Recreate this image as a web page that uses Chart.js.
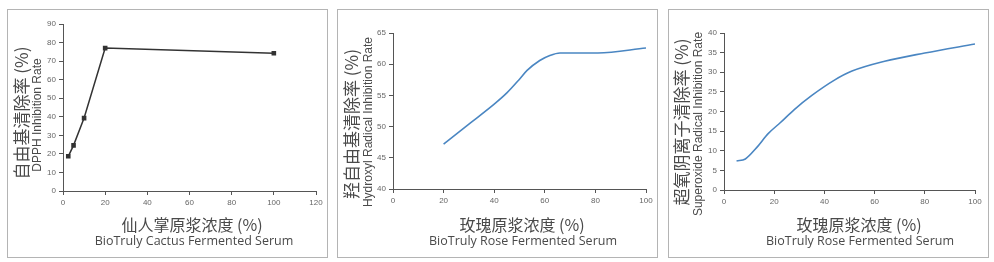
<!DOCTYPE html>
<html>
<head>
<meta charset="utf-8">
<script src="https://cdn.jsdelivr.net/npm/chart.js@4"></script>
<style>
  html, body { margin: 0; padding: 0; background: #fff; }
  body { width: 994px; height: 262px; position: relative; overflow: hidden; }
  .panel { position: absolute; border: 1px solid #b4b4b4; box-sizing: border-box; }
  canvas { position: absolute; }
  .t { position: absolute; white-space: nowrap; color: #4a4a4a; line-height: 1; }
  .rot { transform: translate(-50%, -50%) rotate(-90deg); }
  .hor { transform: translate(-50%, -50%); }
  .cn { font-family: "Noto Sans CJK SC", sans-serif; }
  .cnY { font-size: 17px; }
  .cnX { font-size: 16px; }
  .enY { font-family: "Liberation Sans", Arial, sans-serif; font-size: 12px; }
  .enX { font-family: "Open Sans", sans-serif; font-size: 12.5px; }
</style>
</head>
<body>

<!-- рамки панелей -->
<div class="panel" style="left:7px;top:9px;width:321px;height:249px"></div>
<div class="panel" style="left:337px;top:9px;width:321px;height:249px"></div>
<div class="panel" style="left:668px;top:9px;width:321px;height:249px"></div>

<canvas id="dpphChart" width="320" height="248" style="left:7px;top:9px"></canvas>
<canvas id="hydroxylChart" width="320" height="248" style="left:337px;top:9px"></canvas>
<canvas id="superoxideChart" width="320" height="248" style="left:668px;top:9px"></canvas>

<!-- подписи осей: панель 1 -->
<div class="t cn cnY rot" style="left:20px;top:113px">自由基清除率 (%)</div>
<div class="t enY rot" style="left:37px;top:115px">DPPH Inhibition Rate</div>
<div class="t cn cnX hor" style="left:192px;top:224px">仙人掌原浆浓度 (%)</div>
<div class="t enX hor" style="left:194px;top:241px">BioTruly Cactus Fermented Serum</div>

<!-- панель 2 -->
<div class="t cn cnY rot" style="left:350px;top:124px">羟自由基清除率 (%)</div>
<div class="t enY rot" style="left:368px;top:122px">Hydroxyl Radical Inhibition Rate</div>
<div class="t cn cnX hor" style="left:522px;top:224px">玫瑰原浆浓度 (%)</div>
<div class="t enX hor" style="left:523px;top:241px">BioTruly Rose Fermented Serum</div>

<!-- панель 3 -->
<div class="t cn cnY rot" style="left:680px;top:122px">超氧阴离子清除率 (%)</div>
<div class="t enY rot" style="left:698px;top:124px">Superoxide Radical Inhibition Rate</div>
<div class="t cn cnX hor" style="left:859px;top:224px">玫瑰原浆浓度 (%)</div>
<div class="t enX hor" style="left:860px;top:241px">BioTruly Rose Fermented Serum</div>

<script>
// Данные
const cactusConc = [2.5, 5, 10, 20, 100];
const dpphRate = [18.7, 24.6, 39.3, 77, 74.2];

const roseConcHydroxyl = [20, 30, 40, 45, 50, 53, 58, 62, 66, 81, 100];
const hydroxylRate = [47.2, 50.4, 53.6, 55.4, 57.6, 59.0, 60.6, 61.4, 61.8, 61.8, 62.6];

const roseConcSuperoxide = [5, 8.5, 13, 17.5, 22.5, 28, 35, 44, 51, 64, 80, 100];
const superoxideRate = [7.4, 7.9, 10.8, 14.3, 17.2, 20.5, 24.1, 28.0, 30.3, 32.8, 34.9, 37.2];

// Диапазоны осей (деления)
const dpphXTicks = [0, 120, 20];
const dpphYTicks = [0, 90, 10];
const hydroxylXTicks = [0, 100, 20];
const hydroxylYTicks = [40, 65, 5];
const superoxideXTicks = [0, 100, 20];
const superoxideYTicks = [0, 40, 5];

const axisColor = '#555';
const tickFont = { family: '"Liberation Sans", Arial, sans-serif', size: 8 };

function toPoints(xs, ys) {
    return xs.map((x, i) => ({ x: x, y: ys[i] }));
}

function makeAxis(range, fitSize, isX) {
    return {
        type: 'linear',
        min: range[0],
        max: range[1],
        ticks: {
            stepSize: range[2],
            color: '#666',
            font: tickFont,
            padding: 3,
            maxRotation: 0
        },
        grid: {
            drawOnChartArea: false,
            drawTicks: true,
            tickLength: 4,
            color: axisColor
        },
        border: { color: axisColor, width: 1 },
        afterFit: function(scale) {
            if (isX) scale.height = fitSize; else scale.width = fitSize;
        }
    };
}

function renderChart(id, xs, ys, xRange, yRange, area, lineColor, withPoints) {
    const ctx = document.getElementById(id).getContext('2d');
    return new Chart(ctx, {
        type: 'line',
        data: {
            datasets: [{
                data: toPoints(xs, ys),
                borderColor: lineColor,
                backgroundColor: lineColor,
                borderWidth: withPoints ? 1.5 : 1.6,
                pointRadius: withPoints ? 2.2 : 0,
                pointStyle: 'rect',
                cubicInterpolationMode: withPoints ? 'default' : 'monotone',
                tension: 0,
                fill: false
            }]
        },
        options: {
            responsive: false,
            devicePixelRatio: 1,
            animation: false,
            layout: {
                padding: { left: 0, top: area.top, right: 320 - area.right, bottom: 248 - area.bottom - 20 }
            },
            scales: {
                x: makeAxis(xRange, 20, true),
                y: makeAxis(yRange, area.left, false)
            },
            plugins: {
                legend: { display: false },
                tooltip: { enabled: false }
            }
        }
    });
}

renderChart('dpphChart', cactusConc, dpphRate, dpphXTicks, dpphYTicks,
    { left: 56, right: 309, top: 15, bottom: 182 }, '#333', true);
renderChart('hydroxylChart', roseConcHydroxyl, hydroxylRate, hydroxylXTicks, hydroxylYTicks,
    { left: 56, right: 309, top: 24, bottom: 180 }, '#4a86c2', false);
renderChart('superoxideChart', roseConcSuperoxide, superoxideRate, superoxideXTicks, superoxideYTicks,
    { left: 56, right: 307, top: 24, bottom: 181 }, '#4a86c2', false);
</script>
</body>
</html>
